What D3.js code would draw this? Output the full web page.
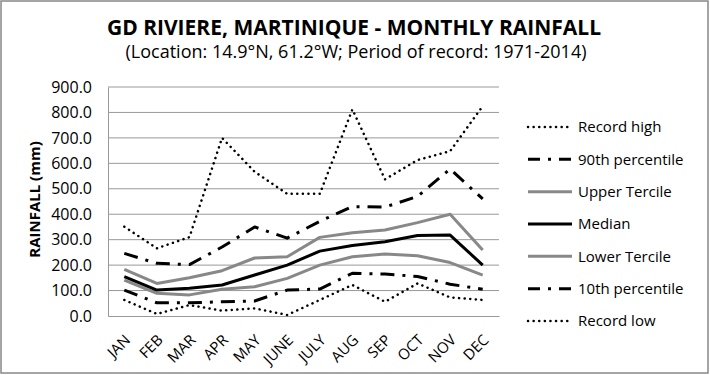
<!DOCTYPE html>
<html>
<head>
<meta charset="utf-8">
<script src="https://cdn.jsdelivr.net/npm/d3@7"></script>
<style>
  body { margin: 0; background: #fff; }
  text { font-family: "Open Sans", sans-serif; fill: #000; }
</style>
</head>
<body>
<svg id="chart" width="710" height="375"></svg>
<script>
const months = ['JAN', 'FEB', 'MAR', 'APR', 'MAY', 'JUNE', 'JULY', 'AUG', 'SEP', 'OCT', 'NOV', 'DEC'];
const yTicks = [0, 100, 200, 300, 400, 500, 600, 700, 800, 900];

const recordHigh = [351, 266, 310, 700, 567, 480, 480, 812, 537, 613, 648, 825];
const pct90 = [246, 207, 202, 271, 350, 306, 372, 430, 428, 470, 578, 460];
const upperTercile = [183, 128, 150, 178, 228, 233, 309, 327, 338, 367, 400, 259];
const median = [155, 102, 109, 122, 161, 200, 255, 277, 292, 316, 318, 200];
const lowerTercile = [141, 89, 83, 105, 115, 148, 200, 233, 244, 237, 210, 161];
const pct10 = [102, 52, 52, 56, 59, 102, 106, 168, 165, 155, 125, 105];
const recordLow = [63, 8, 43, 21, 30, 4, 63, 122, 56, 128, 73, 63];

const seriesNames = ['Record high', '90th percentile', 'Upper Tercile', 'Median', 'Lower Tercile', '10th percentile', 'Record low'];

main();

function main () {
  const svg = d3.select('#chart');
  const left = 108, right = 499, top = 87, bottom = 316;

  // outer frame
  svg.append('rect').attr('x', 1).attr('y', 1).attr('width', 707).attr('height', 372)
    .attr('fill', 'none').attr('stroke', '#888').attr('stroke-width', 1.5);

  svg.append('text').text('GD RIVIERE, MARTINIQUE - MONTHLY RAINFALL')
    .attr('x', 354).attr('y', 35).attr('text-anchor', 'middle')
    .attr('font-size', '21px').attr('font-weight', 700);
  svg.append('text').text('(Location: 14.9°N, 61.2°W; Period of record: 1971-2014)')
    .attr('x', 356).attr('y', 58).attr('text-anchor', 'middle')
    .attr('font-size', '18px');

  const x = d3.scaleBand().domain(months).range([left, right]);
  const y = d3.scaleLinear().domain([0, 900]).range([bottom, top]);

  // grid
  svg.append('g').selectAll('line').data(yTicks.slice(1)).join('line')
    .attr('x1', left).attr('x2', right)
    .attr('y1', d => y(d)).attr('y2', d => y(d))
    .attr('stroke', '#999').attr('stroke-width', 1);

  const yAxis = svg.append('g').attr('transform', `translate(${left},0)`)
    .call(d3.axisLeft(y).tickValues(yTicks).tickFormat(d3.format('.1f')).tickSize(0).tickPadding(16));
  yAxis.select('.domain').attr('stroke', '#999');
  yAxis.selectAll('text').attr('font-size', '16px').attr('fill', '#000');

  const xAxis = svg.append('g').attr('transform', `translate(0,${bottom})`)
    .call(d3.axisBottom(x).tickSize(0).tickPadding(0));
  xAxis.select('.domain').attr('stroke', '#999');
  xAxis.selectAll('text')
    .attr('font-size', '15px').attr('fill', '#000')
    .attr('text-anchor', 'end')
    .attr('dy', 0).attr('y', 0)
    .attr('transform', 'translate(7,25) rotate(-45)');

  svg.append('text').text('RAINFALL (mm)')
    .attr('transform', `translate(40,${(top + bottom) / 2 - 2}) rotate(-90)`)
    .attr('text-anchor', 'middle').attr('font-size', '15px').attr('font-weight', 700);

  const series = [
    { name: seriesNames[0], values: recordHigh, color: '#000', width: 2.5, dash: '0.1,5.5', cap: 'round' },
    { name: seriesNames[1], values: pct90, color: '#000', width: 3, dash: '14,8,3,8', cap: 'butt' },
    { name: seriesNames[2], values: upperTercile, color: '#888', width: 3, dash: null, cap: 'butt' },
    { name: seriesNames[3], values: median, color: '#000', width: 3, dash: null, cap: 'butt' },
    { name: seriesNames[4], values: lowerTercile, color: '#888', width: 3, dash: null, cap: 'butt' },
    { name: seriesNames[5], values: pct10, color: '#000', width: 3, dash: '14,8,3,8', cap: 'butt' },
    { name: seriesNames[6], values: recordLow, color: '#000', width: 2.5, dash: '0.1,5.5', cap: 'round' }
  ];

  const line = d3.line()
    .x((d, i) => x(months[i]) + x.bandwidth() / 2)
    .y(d => y(d));

  const drawOrder = [4, 2, 3, 5, 1, 6, 0];
  drawOrder.forEach(idx => {
    const s = series[idx];
    svg.append('path')
      .attr('d', line(s.values))
      .attr('fill', 'none')
      .attr('stroke', s.color)
      .attr('stroke-width', s.width)
      .attr('stroke-dasharray', s.dash)
      .attr('stroke-linecap', s.cap)
      .attr('stroke-linejoin', 'round');
  });

  // legend
  const legendY = d3.scalePoint().domain(seriesNames).range([127, 321]);
  series.forEach(s => {
    const ly = legendY(s.name);
    svg.append('line')
      .attr('x1', 528).attr('x2', 572).attr('y1', ly).attr('y2', ly)
      .attr('stroke', s.color).attr('stroke-width', s.width)
      .attr('stroke-dasharray', s.dash === '14,8,3,8' ? '12,8,3,8' : s.dash)
      .attr('stroke-linecap', s.cap);
    svg.append('text').text(s.name)
      .attr('x', 578).attr('y', ly).attr('dy', '0.35em')
      .attr('font-size', '15px');
  });
}
</script>
</body>
</html>
